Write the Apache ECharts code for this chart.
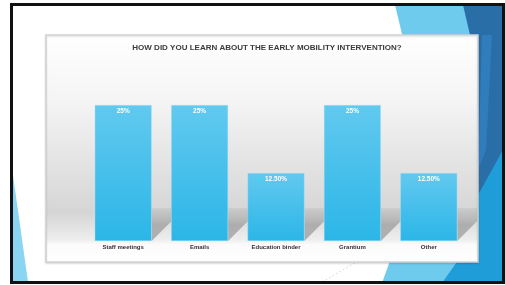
<!DOCTYPE html>
<html>
<head>
<meta charset="utf-8">
<script src="https://cdn.jsdelivr.net/npm/echarts@6/dist/echarts.min.js"></script>
<style>
    html, body { margin: 0; padding: 0; background: #fff; }
    #chart { width: 505px; height: 285px; }
</style>
</head>
<body>
<div id="chart"></div>
<script>
var titleText = 'HOW DID YOU LEARN ABOUT THE EARLY MOBILITY INTERVENTION?';
var categories = ['Staff meetings', 'Emails', 'Education binder', 'Grantium', 'Other'];
var values = [25, 25, 12.5, 25, 12.5];
var valueLabels = ['25%', '25%', '12.50%', '25%', '12.50%'];

function drawChart() {
    var myChart = echarts.init(document.getElementById('chart'));

    var option = {
        animation: false,
        title: {
            text: titleText,
            left: 262,
            top: 39,
            textAlign: 'center',
            textStyle: {
                fontSize: 8,
                fontWeight: 'bold',
                color: '#3b3b3b',
                fontFamily: 'Liberation Sans'
            }
        },
        graphic: [
            // slide decoration (right side)
            { type: 'polygon', z: -20, shape: { points: [[395, 5], [503, 5], [503, 283], [382, 283], [430, 150]] }, style: { fill: '#6fcbee' } },
            { type: 'polygon', z: -19, shape: { points: [[463, 5], [503, 5], [503, 150], [478, 200], [470, 35]] }, style: { fill: '#2a6ea8' } },
            { type: 'polygon', z: -18, shape: { points: [[482, 35], [492, 35], [486, 150], [478, 170]] }, style: { fill: '#2f7dbd' } },
            { type: 'polygon', z: -18, shape: { points: [[503, 150], [503, 283], [442, 283], [478, 232], [478, 195]] }, style: { fill: '#1f9dd9' } },
            { type: 'polygon', z: -18, shape: { points: [[13, 175], [13, 282], [28, 282]] }, style: { fill: '#8ad5f2' } },
            { type: 'line', z: -17, shape: { x1: 322, y1: 282, x2: 358, y2: 261 }, style: { stroke: '#cfdde5', lineWidth: 1, lineDash: [2, 2] } },
            // frame
            { type: 'rect', z: -5, shape: { x: 11.5, y: 4.5, width: 492, height: 278 }, style: { fill: 'none', stroke: '#111', lineWidth: 3 } },
            // chart area
            {
                type: 'rect', z: -10,
                shape: { x: 46, y: 35, width: 432, height: 227 },
                style: {
                    fill: new echarts.graphic.LinearGradient(0, 0, 0, 1, [
                        { offset: 0, color: '#ffffff' },
                        { offset: 0.3, color: '#f4f4f4' },
                        { offset: 0.73, color: '#d9d9d9' },
                        { offset: 0.78, color: '#d5d5d5' },
                        { offset: 0.9, color: '#eeeeee' },
                        { offset: 0.92, color: '#fbfbfb' },
                        { offset: 1, color: '#ffffff' }
                    ]),
                    stroke: '#d2d2d2',
                    lineWidth: 1.5,
                    shadowColor: 'rgba(0,0,0,0.15)',
                    shadowBlur: 2,
                    shadowOffsetY: 1
                }
            }
        ],
        grid: {
            left: 85,
            right: 38,
            top: 105,
            bottom: 44
        },
        xAxis: {
            type: 'category',
            data: categories,
            axisLine: { show: false },
            axisTick: { show: false },
            axisLabel: {
                margin: 3,
                fontSize: 6,
                fontWeight: 'bold',
                color: '#333',
                fontFamily: 'Liberation Sans'
            }
        },
        yAxis: {
            type: 'value',
            min: 0,
            max: 25,
            show: false,
            splitLine: { show: false }
        },
        series: [
            {
                name: 'floor shadow',
                type: 'custom',
                z: 1,
                silent: true,
                data: categories.map(function (c, i) { return [i, values[i]]; }),
                renderItem: function (params, api) {
                    var base = api.coord([api.value(0), 0]);
                    var w = api.size([1, 0])[0] * 0.745;
                    var x0 = base[0] + w / 2;
                    var y0 = base[1];
                    return {
                        type: 'polygon',
                        shape: { points: [[x0, y0 - 33], [x0 + 20, y0 - 33], [x0 + 20, y0 - 20], [x0, y0]] },
                        style: {
                            fill: new echarts.graphic.LinearGradient(0, 0, 0, 1, [
                                { offset: 0, color: 'rgba(150,150,150,0.15)' },
                                { offset: 0.5, color: 'rgba(140,140,140,0.6)' },
                                { offset: 1, color: 'rgba(150,150,150,0.7)' }
                            ])
                        }
                    };
                }
            },
            {
                name: 'answers',
                type: 'bar',
                z: 2,
                barWidth: '74.5%',
                data: values,
                itemStyle: {
                    color: new echarts.graphic.LinearGradient(0, 0, 0, 1, [
                        { offset: 0, color: '#62c9ef' },
                        { offset: 1, color: '#2bb6e7' }
                    ]),
                    borderColor: 'rgba(170,225,248,0.8)',
                    borderWidth: 0.5
                },
                label: {
                    show: true,
                    position: 'insideTop',
                    distance: 3,
                    fontSize: 6.5,
                    fontWeight: 'bold',
                    color: '#fff',
                    fontFamily: 'Liberation Sans',
                    formatter: function (p) { return valueLabels[p.dataIndex]; }
                }
            }
        ]
    };

    myChart.setOption(option);
}

drawChart();
</script>
</body>
</html>
